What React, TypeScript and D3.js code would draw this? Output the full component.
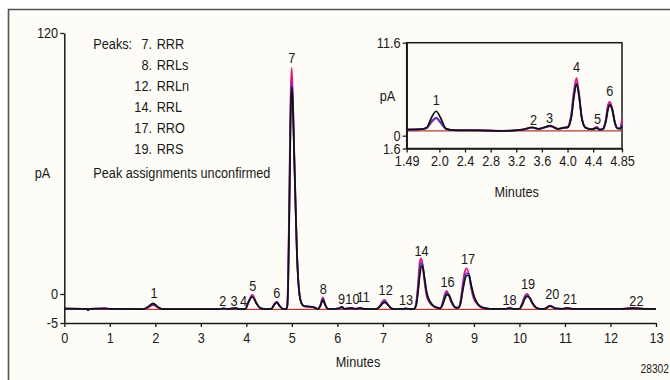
import React, { useRef, useEffect } from "react";
import * as d3 from "d3";

const width = 670; // whole picture in px
const height = 380;
const font = '"Liberation Sans", Arial, sans-serif';
const narrow = 0.82; // Arial Narrow look: Arial squeezed horizontally
const ink = "#1a1a1a";
const pink = "#e5177f";
const blue = "#4840bd";
const black = "#111111";
const baseRed = "#b23b35";

// main chromatogram, minutes vs pA
const mainTimes = [
  0, 0.5, 0.52, 0.55, 0.9, 1.0, 1.75, 1.85, 1.95, 2.05, 2.15, // peak 1
  3.4, 3.5, 3.6, 3.75, 3.85, 3.98, 4.05, 4.13, 4.22, 4.3, 4.4, 4.55, 4.62, 4.67, 4.73, 4.8, // 2-6
  4.87, 4.9, 4.92, 4.945, 4.97, 4.995, 5.02, 5.05, 5.08, 5.11, 5.14, 5.17, 5.21, 5.27, 5.4, 5.5, 5.57, // 7
  5.63, 5.68, 5.73, 5.78, 5.85, 6.05, 6.1, 6.15, 6.3, 6.4, 6.5, 6.6, // 8-11
  6.85, 6.93, 7.0, 7.04, 7.1, 7.18, 7.25, 7.45, 7.5, 7.56, // 12-13
  7.68, 7.73, 7.77, 7.81, 7.84, 7.87, 7.91, 7.96, 8.02, 8.1, 8.2, // 14
  8.26, 8.31, 8.36, 8.4, 8.45, 8.5, 8.56, 8.62, // 16
  8.66, 8.71, 8.75, 8.79, 8.84, 8.89, 8.94, 9.0, 9.06, 9.12, 9.2, 9.35, // 17
  9.7, 9.78, 9.86, 10.0, 10.06, 10.12, 10.17, 10.23, 10.29, 10.36, 10.45, // 18-19
  10.55, 10.67, 10.8, 10.95, 11.05, 11.2, 12.2, 12.5, 12.8, 13.0, // 20-22
];
const mainPink = [
  -2.53, -2.57, -2.6, -2.55, -2.47, -2.58, -2.6, -2.3, -1.9, -2.3, -2.6,
  -2.6, -2.5, -2.6, -2.45, -2.6, -2.55, -1.2, -0.17, -1.55, -2.4, -2.6, -2.55, -1.64, -1.33, -2.07, -2.55,
  -2.6, -1.9, 11, 47.8, 89, 103.9, 91.5, 66, 43, 20, 6.4, -0.17, -1.55, -2.07, -2.19, -2.33, -2.6,
  -1.81, -0.57, -1.8, -2.5, -2.6, -2.45, -2.2, -2.55, -2.45, -2.55, -2.45, -2.58,
  -2.6, -2.07, -1.2, -1.03, -1.72, -2.45, -2.6, -2.58, -2.5, -2.58,
  -2.6, -1.55, 4.1, 14.7, 16.4, 13.8, 6.4, -0.34, -1.38, -2.07, -2.4,
  -2.45, -1.55, 0, 1.38, -0.26, -1.38, -2.16, -2.36,
  -2.3, -1.0, 4.0, 9.5, 11.8, 9.0, 2.5, -0.9, -1.6, -2.1, -2.4, -2.55,
  -2.55, -2.45, -2.55, -2.55, -1.55, -0.34, 0, -0.78, -1.72, -2.33, -2.55,
  -2.55, -2.0, -2.5, -2.55, -2.45, -2.58, -2.58, -2.45, -2.58, -2.6,
];
const mainBlue = [
  -2.53, -2.57, -2.62, -2.55, -2.47, -2.58, -2.6, -2.2, -1.7, -2.25, -2.6,
  -2.6, -2.5, -2.6, -2.45, -2.6, -2.55, -1.3, -0.35, -1.58, -2.4, -2.6, -2.55, -1.7, -1.42, -2.06, -2.55,
  -2.6, -2.0, 8, 42, 82, 97, 89, 65, 42, 19.5, 6.2, -0.25, -1.58, -2.08, -2.2, -2.34, -2.6,
  -1.9, -0.8, -1.82, -2.5, -2.6, -2.45, -2.22, -2.55, -2.45, -2.55, -2.45, -2.58,
  -2.6, -2.15, -1.4, -1.25, -1.75, -2.45, -2.6, -2.58, -2.5, -2.58,
  -2.6, -1.8, 2.0, 11.5, 14.3, 13.5, 7.5, 0.5, -1.2, -2.0, -2.4,
  -2.48, -1.75, -0.4, 0.5, -0.2, -1.2, -2.1, -2.37,
  -2.33, -1.3, 2.0, 7.0, 9.6, 9.0, 3.5, -0.5, -1.5, -2.05, -2.38, -2.55,
  -2.55, -2.45, -2.55, -2.55, -1.7, -0.55, -0.2, -0.75, -1.65, -2.32, -2.55,
  -2.55, -2.05, -2.5, -2.55, -2.45, -2.58, -2.58, -2.45, -2.58, -2.6,
];
const mainBlack = [
  -2.53, -2.57, -2.84, -2.55, -2.5, -2.58, -2.6, -2.15, -1.6, -2.2, -2.6,
  -2.6, -2.5, -2.6, -2.45, -2.6, -2.55, -1.4, -0.47, -1.6, -2.4, -2.6, -2.55, -1.8, -1.5, -2.05, -2.55,
  -2.6, -2.1, 6, 38, 78, 95, 88, 64, 41, 19, 6, -0.3, -1.6, -2.1, -2.2, -2.35, -2.6,
  -2.0, -1.03, -1.85, -2.5, -2.6, -2.45, -2.25, -2.55, -2.45, -2.55, -2.45, -2.58,
  -2.6, -2.2, -1.6, -1.43, -1.8, -2.45, -2.6, -2.58, -2.5, -2.58,
  -2.6, -2.0, 0.5, 8.5, 12.5, 12.8, 8.0, 1.0, -1.1, -1.95, -2.38,
  -2.5, -1.9, -0.8, -0.1, -0.15, -1.1, -2.05, -2.38,
  -2.35, -1.5, 1.0, 5.5, 8.5, 8.5, 4.0, -0.3, -1.4, -2.0, -2.35, -2.55,
  -2.55, -2.45, -2.55, -2.55, -1.9, -0.8, -0.4, -0.7, -1.6, -2.3, -2.55,
  -2.55, -2.1, -2.5, -2.55, -2.45, -2.58, -2.58, -2.45, -2.58, -2.6,
];
const mainBaseline = [
  [0, -2.65],
  [13, -2.65],
];

// peak numbers over the main trace
const mainPeakLabels = ["1", "2", "3", "4", "5", "6", "7", "8", "9", "10", "11", "12", "13", "14", "16", "17", "18", "19", "20", "21", "22"];
const mainPeakT = [1.97, 3.48, 3.73, 3.94, 4.14, 4.67, 5.0, 5.69, 6.09, 6.33, 6.57, 7.06, 7.51, 7.85, 8.42, 8.87, 9.78, 10.19, 10.72, 11.11, 12.57];
const mainPeakV = [0.46, -1.16, -1.16, -1.16, 3.7, 0.6, 108.5, 2.6, -0.74, -0.74, -0.52, 1.84, -1.03, 20.2, 5.66, 16.1, -1.03, 4.9, 0, -0.74, -1.16];

const mainXTicks = [0, 1, 2, 3, 4, 5, 6, 7, 8, 9, 10, 11, 12, 13];
const mainYTicks = [-5, 0, 120];

// inset: 1.49-4.85 min enlarged
const insetTimes = [
  1.49, 1.7, 1.8, 1.88, 1.95, 2.02, 2.1, 2.2, 2.6, 3.0, 3.3, 3.45, 3.55, 3.73, 3.85, 3.95, 4.0,
  4.06, 4.1, 4.14, 4.18, 4.22, 4.28, 4.38, 4.46, 4.5, 4.55, 4.6, 4.63, 4.66, 4.7, 4.74, 4.78, 4.82, 4.85,
];
const insetPink = [
  0.75, 0.8, 0.95, 1.7, 2.15, 1.6, 0.85, 0.7, 0.7, 0.6, 0.75, 1.0, 0.85, 1.15, 0.85, 1.0, 1.1,
  2.8, 5.6, 7.2, 5.2, 2.4, 1.0, 0.8, 1.1, 0.75, 0.85, 2.2, 3.8, 4.2, 3.3, 1.6, 0.95, 0.95, 2.1,
];
const insetBlue = [
  0.75, 0.8, 0.95, 1.8, 2.25, 1.65, 0.85, 0.7, 0.65, 0.6, 0.75, 1.0, 0.85, 1.2, 0.85, 1.0, 1.05,
  2.6, 5.2, 6.6, 4.9, 2.3, 1.0, 0.8, 1.0, 0.75, 0.82, 2.0, 3.4, 3.9, 3.1, 1.55, 0.9, 0.9, 1.5,
];
const insetBlack = [
  0.75, 0.8, 1.0, 2.3, 3.05, 2.2, 0.9, 0.7, 0.65, 0.6, 0.75, 1.05, 0.85, 1.25, 0.85, 1.0, 1.0,
  2.3, 4.8, 6.4, 5.0, 2.3, 1.0, 0.8, 0.95, 0.75, 0.8, 1.8, 3.2, 3.8, 3.2, 1.6, 0.9, 0.85, 1.2,
];
const insetBaseline = [
  [1.49, 0.6],
  [4.85, 0.6],
];
const insetPeakLabels = ["1", "2", "3", "4", "5", "6"];
const insetPeakT = [1.95, 3.47, 3.72, 4.14, 4.47, 4.66];
const insetPeakV = [4.5, 2.0, 2.3, 8.6, 2.1, 5.6];

const insetXTicks = [1.49, 2.0, 2.4, 2.8, 3.2, 3.6, 4.0, 4.4, 4.85];
const insetXLabels = ["1.49", "2.0", "2.4", "2.8", "3.2", "3.6", "4.0", "4.4", "4.85"];
const insetYTicks = [-1.6, 0, 11.6];
const insetYLabels = ["1.6", "0", "11.6"];

// legend text
const legendNums = ["7.", "8.", "12.", "14.", "17.", "19."];
const legendNames = ["RRR", "RRLs", "RRLn", "RRL", "RRO", "RRS"];

const xMain = d3.scaleLinear().domain([0, 13]).range([64.3, 656]);
// the printed y scale is stretched below zero
const yMain = d3.scaleLinear().domain([-5, 0, 120]).range([323, 294, 33]);
const xInset = d3.scaleLinear().domain([1.49, 4.85]).range([406.7, 622]);
const yInset = d3.scaleLinear().domain([-1.6, 11.6]).range([148.5, 42.7]);

const styleAxis = (g: d3.Selection<SVGGElement, unknown, null, undefined>) => {
  g.attr("font-family", font).attr("font-size", 15.5);
  g.selectAll("path.domain").attr("stroke", ink).attr("stroke-width", 1.5);
  g.selectAll(".tick line").attr("stroke", ink).attr("stroke-width", 1.3);
  g.selectAll(".tick text").attr("fill", ink).attr("transform", `scale(${narrow},1)`);
};

interface TProps {
  x: number;
  y: number;
  anchor?: "start" | "middle" | "end";
  size?: number;
  children: React.ReactNode;
}
const T = ({ x, y, anchor = "start", size = 15.5, children }: TProps) => (
  <text
    transform={`translate(${x},${y}) scale(${narrow},1)`}
    textAnchor={anchor}
    dominantBaseline="central"
    fontFamily={font}
    fontSize={size}
    fill={ink}
  >
    {children}
  </text>
);

const App = () => {
  const xMainRef = useRef<SVGGElement>(null);
  const yMainRef = useRef<SVGGElement>(null);
  const xInsetRef = useRef<SVGGElement>(null);
  const yInsetRef = useRef<SVGGElement>(null);

  useEffect(() => {
    const xa = d3.select(xMainRef.current!);
    xa.call(d3.axisBottom(xMain).tickValues(mainXTicks).tickSize(4).tickSizeOuter(0).tickPadding(5) as never);
    styleAxis(xa as never);
    const ya = d3.select(yMainRef.current!);
    ya.call(
      d3
        .axisLeft(yMain)
        .tickValues(mainYTicks)
        .tickFormat((d) => String(d))
        .tickSize(4)
        .tickSizeOuter(0)
        .tickPadding(3.5) as never
    );
    styleAxis(ya as never);
    const xi = d3.select(xInsetRef.current!);
    xi.call(
      d3
        .axisBottom(xInset)
        .tickValues(insetXTicks)
        .tickFormat((d, i) => insetXLabels[i])
        .tickSize(4)
        .tickSizeOuter(0)
        .tickPadding(3) as never
    );
    styleAxis(xi as never);
    const yi = d3.select(yInsetRef.current!);
    yi.call(
      d3
        .axisLeft(yInset)
        .tickValues(insetYTicks)
        .tickFormat((d, i) => insetYLabels[i])
        .tickSize(4)
        .tickSizeOuter(0)
        .tickPadding(3.5) as never
    );
    styleAxis(yi as never);
  }, []);

  const mainLine = d3
    .line<number>()
    .x((d, i) => xMain(mainTimes[i]))
    .y((d) => yMain(d))
    .curve(d3.curveMonotoneX);
  const insetLine = d3
    .line<number>()
    .x((d, i) => xInset(insetTimes[i]))
    .y((d) => yInset(d))
    .curve(d3.curveMonotoneX);
  const mainBase = d3
    .line<number[]>()
    .x((d) => xMain(d[0]))
    .y((d) => yMain(d[1]));
  const insetBase = d3
    .line<number[]>()
    .x((d) => xInset(d[0]))
    .y((d) => yInset(d[1]));

  return (
    <svg width={width} height={height} style={{ position: "absolute", left: 0, top: 0 }}>
      <rect x={0} y={0} width={width} height={height} fill="#ffffff" />
      <rect x={8} y={9} width={width - 8} height={height - 9} fill="#fdfcf6" />
      <path d={`M8.5,${height} V9.5 H${width}`} fill="none" stroke="#555" strokeWidth={1.6} />

      {/* main traces */}
      <path d={mainBase(mainBaseline as never) || ""} fill="none" stroke={baseRed} strokeWidth={1.4} />
      <path d={mainLine(mainPink) || ""} fill="none" stroke={pink} strokeWidth={1.8} />
      <path d={mainLine(mainBlue) || ""} fill="none" stroke={blue} strokeWidth={1.8} />
      <path d={mainLine(mainBlack) || ""} fill="none" stroke={black} strokeWidth={1.7} />

      <g ref={xMainRef} transform={`translate(0, ${yMain(-5)})`} />
      <g ref={yMainRef} transform={`translate(${xMain(0)}, 0)`} />

      {mainPeakLabels.map((l, i) => (
        <T key={"p" + i} x={xMain(mainPeakT[i])} y={yMain(mainPeakV[i])} anchor="middle">
          {l}
        </T>
      ))}

      <T x={42.5} y={173} anchor="middle">pA</T>
      <T x={358} y={362} anchor="middle">Minutes</T>
      <T x={669} y={369} anchor="end" size={12.5}>28302</T>

      {/* legend */}
      <T x={93.3} y={44}>Peaks:</T>
      {legendNums.map((n, i) => (
        <g key={"l" + i}>
          <T x={152} y={44 + i * 21} anchor="end">{n}</T>
          <T x={156.7} y={44 + i * 21}>{legendNames[i]}</T>
        </g>
      ))}
      <T x={93.3} y={173}>Peak assignments unconfirmed</T>

      {/* inset */}
      <rect x={xInset(1.49)} y={yInset(11.6)} width={xInset(4.85) - xInset(1.49)} height={yInset(-1.6) - yInset(11.6)} fill="none" stroke={ink} strokeWidth={1.5} />
      <path d={insetBase(insetBaseline as never) || ""} fill="none" stroke={baseRed} strokeWidth={1.4} />
      <path d={insetLine(insetPink) || ""} fill="none" stroke={pink} strokeWidth={1.8} />
      <path d={insetLine(insetBlue) || ""} fill="none" stroke={blue} strokeWidth={1.8} />
      <path d={insetLine(insetBlack) || ""} fill="none" stroke={black} strokeWidth={1.7} />
      <g ref={xInsetRef} transform={`translate(0, ${yInset(-1.6)})`} />
      <g ref={yInsetRef} transform={`translate(${xInset(1.49)}, 0)`} />
      {insetPeakLabels.map((l, i) => (
        <T key={"q" + i} x={xInset(insetPeakT[i])} y={yInset(insetPeakV[i])} anchor="middle">
          {l}
        </T>
      ))}
      <T x={387.5} y={96} anchor="middle">pA</T>
      <T x={516.7} y={192} anchor="middle">Minutes</T>
    </svg>
  );
};

export default App;
